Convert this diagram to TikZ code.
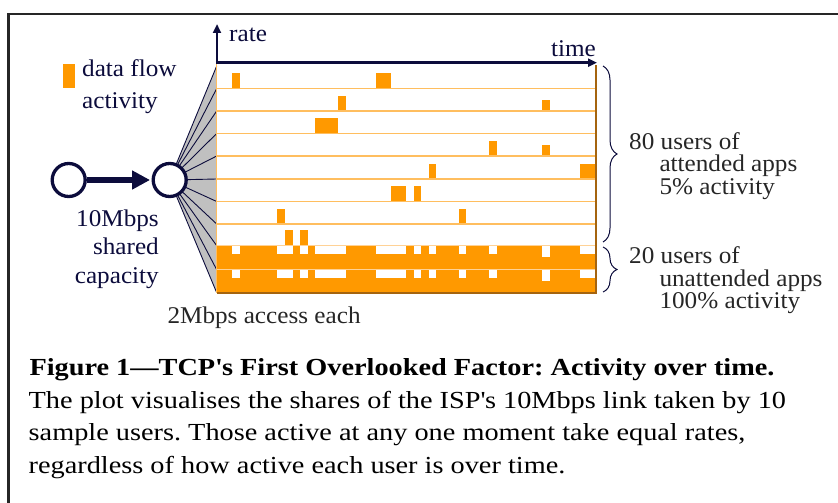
\documentclass[tikz,border=0pt]{standalone}
\usepackage{fontspec}
\setmainfont{Liberation Serif}
\newfontfamily\lblfont[FakeStretch=1.05]{Liberation Serif}
\newfontfamily\capfont[FakeStretch=1.155]{Liberation Serif}
\usetikzlibrary{arrows.meta,backgrounds,decorations.pathreplacing}
\frenchspacing

\definecolor{navy}{RGB}{12,12,60}
\definecolor{flow}{RGB}{255,153,0}
\definecolor{rowln}{RGB}{255,190,95}
\definecolor{rowlt}{RGB}{255,210,150}
\definecolor{rim}{RGB}{165,100,15}
\definecolor{fanfill}{RGB}{192,192,192}

\tikzset{
  framel/.style={line width=2.5, black!85},
  hubnode/.style={circle, draw=navy, fill=white, line width=3.3, minimum size=33pt, inner sep=0pt},
  link/.style={navy, line width=6, -{Triangle[length=18pt,width=18pt]}, shorten >=1.5pt},
  spoke/.style={navy, line width=0.9},
  axis/.style={navy, line width=2.4, -{Triangle[length=9pt,width=8pt]}},
  navlbl/.style={anchor=base west, inner sep=0pt, text=navy, font=\lblfont\fontsize{24}{28}\selectfont},
  lbl/.style={anchor=base west, inner sep=0pt, text=black!85, font=\lblfont\fontsize{24}{28}\selectfont},
  capline/.style={anchor=base west, inner sep=0pt, font=\capfont\fontsize{24.5}{28}\selectfont},
  bracel/.style={navy, line width=1, decorate, decoration={brace, amplitude=14pt}},
}

\begin{document}
\begin{tikzpicture}[x=1pt,y=-1pt]
  \useasboundingbox (0,0) rectangle (838,503);

  % frame
  \draw[framel] (8.7,503) -- (8.7,14) -- (838,14);

  % legend
  \fill[flow] (63.3,64.3) rectangle (75,87.7);
  \node[navlbl] (legA) at (82,77) {data flow};
  \node[navlbl] (legB) at (82,108) {activity};

  % shared link into the hub
  \node[hubnode] (src) at (68.7,180) {};
  \node[hubnode] (hub) at (169.7,180) {};
  \draw[link] (src) -- (hub);

  \node[navlbl, anchor=base east] (capA) at (159,226) {10Mbps};
  \node[navlbl, anchor=base east] (capB) at (159,254.3) {shared};
  \node[navlbl, anchor=base east] (capC) at (159,283.3) {capacity};

  % access lines fanning out
  \foreach \k/\y in {0/66,1/88.5,2/111,3/133.5,4/156,5/179,6/201.5,7/224,8/245.7,9/269.7,10/292.7}
    \coordinate (f\k) at (216.7,\y);
  \begin{scope}[on background layer]
    \fill[fanfill] (hub.center) -- (f0) -- (f10) -- cycle;
    \foreach \k in {0,...,10}
      \draw[spoke] (hub.center) -- (f\k);
  \end{scope}

  % attended users
  \foreach \yb/\a/\b/\yt in {88.5/2/3/72.7, 88.5/21/23/73, 111/16/17/96, 111/43/44/100,
      133.5/13/16/118, 156/36/37/141, 156/43/44/145, 179/28/29/164, 179/48/50/164,
      201.5/23/25/186, 201.5/26/27/186, 224/8/9/209, 224/32/33/209,
      245.7/9/10/230, 245.7/11/12/230}
    \fill[flow] ({217+\a*7.56},\yb) rectangle ({217+\b*7.56},\yt);

  % unattended users
  \fill[flow] (217,245.7) rectangle (595,292.7);
  \foreach \yt in {245.7,269.7}
    \foreach \a/\b/\d in {2/3/8.5, 8/10/8.5, 11/12/8.5, 13/17/8.5, 21/25/8.5, 26/27/8.5,
        28/29/8.5, 32/33/8.5, 36/37/8.5, 43/44/11.5, 48/50/8.5}
      \fill[white] ({217+\a*7.56},\yt) rectangle ({217+\b*7.56},{\yt+\d});

  % row lines
  \foreach \y in {88.5,111,133.5,156,179,201.5,224}
    \draw[rowln, line width=1.3] (217,\y) -- (595,\y);
  \foreach \y in {245.7,269.7}
    \draw[rowlt, line width=1.3] (217,\y) -- (595,\y);

  % plot edges
  \draw[rowln, line width=1.2] (216.7,63) -- (216.7,292.7);
  \draw[rim, line width=1.8] (216.5,292.7) -- (596,292.7) -- (596,65);

  % axes
  \coordinate (orig) at (217,62.7);
  \coordinate (rateTip) at (217,24);
  \coordinate (timeTip) at (597,62.7);
  \draw[axis] ([yshift=1.5pt]orig) -- (rateTip);
  \draw[axis] ([xshift=-1.2pt]orig) -- (timeTip);
  \node[navlbl] (rate) at (229,42) {rate};
  \node[navlbl, anchor=base east] (time) at (596,57) {time};

  \node[lbl] (acc) at (167.3,323.3) {2Mbps access each};

  % braces
  \coordinate (bA1) at (603,66);
  \coordinate (bA2) at (603,242);
  \coordinate (bB1) at (603,247);
  \coordinate (bB2) at (603,292);
  \draw[bracel] (bA1) -- (bA2);
  \draw[bracel] (bB1) -- (bB2);

  \node[lbl] (attA) at (629,149) {80 users of};
  \node[lbl] (attB) at (659.3,171.7) {attended apps};
  \node[lbl] (attC) at (659.3,194) {5\% activity};
  \node[lbl] (unaA) at (629,263.3) {20 users of};
  \node[lbl] (unaB) at (659.3,286) {unattended apps};
  \node[lbl] (unaC) at (659.3,308.3) {100\% activity};

  % caption
  \node[capline, font=\capfont\fontsize{24.5}{28}\selectfont\bfseries] (capT) at (29.3,375)
    {Figure 1—TCP\textquotesingle s First Overlooked Factor: Activity over time.};
  \node[capline] (cap1) at (28.5,408) {The plot visualises the shares of the ISP\textquotesingle s 10Mbps link taken by 10};
  \node[capline] (cap2) at (28.5,440.5) {sample users. Those active at any one moment take equal rates,};
  \node[capline] (cap3) at (28.5,473) {regardless of how active each user is over time.};
\end{tikzpicture}
\end{document}
